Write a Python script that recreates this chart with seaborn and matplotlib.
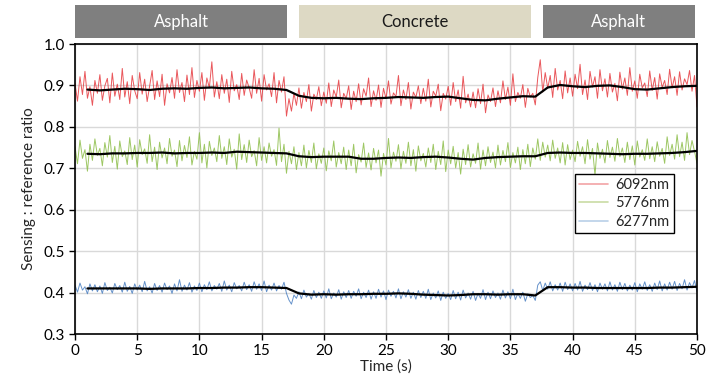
import numpy as np
import pandas as pd
import matplotlib
matplotlib.use("Agg")
import matplotlib.pyplot as plt
import matplotlib.transforms as mtransforms
from matplotlib.patches import Rectangle
from matplotlib.lines import Line2D
import seaborn as sns

# ---------------- data ----------------
time_raw = np.round(np.arange(0, 50.001, 0.2), 1)

red_raw = [
    0.905,0.862,0.921,0.878,0.934,0.869,0.897,0.852,0.912,0.881,
    0.926,0.864,0.899,0.917,0.858,0.930,0.874,0.903,0.866,0.941,
    0.872,0.909,0.856,0.924,0.887,0.868,0.931,0.879,0.915,0.861,
    0.898,0.936,0.866,0.911,0.873,0.927,0.852,0.904,0.882,0.919,
    0.869,0.938,0.883,0.907,0.861,0.925,0.878,0.943,0.871,0.912,
    0.886,0.931,0.864,0.918,0.894,0.957,0.872,0.909,0.868,0.926,
    0.881,0.915,0.859,0.934,0.887,0.902,0.866,0.929,0.876,0.913,
    0.894,0.869,0.938,0.881,0.917,0.862,0.926,0.889,0.904,0.873,
    0.931,0.858,0.912,0.884,0.921,0.826,0.868,0.838,0.881,0.852,
    0.894,0.845,0.883,0.861,0.902,0.838,0.879,0.866,0.897,0.851,
    0.884,0.857,0.906,0.849,0.889,0.872,0.913,0.846,0.881,0.868,
    0.899,0.842,0.886,0.861,0.904,0.853,0.892,0.874,0.918,0.849,
    0.887,0.864,0.901,0.847,0.893,0.868,0.911,0.855,0.882,0.873,
    0.924,0.851,0.889,0.866,0.907,0.843,0.884,0.871,0.899,0.856,
    0.893,0.862,0.915,0.848,0.886,0.874,0.903,0.839,0.881,0.867,
    0.898,0.852,0.907,0.861,0.889,0.845,0.922,0.858,0.879,0.848,
    0.884,0.846,0.892,0.856,0.903,0.834,0.877,0.861,0.894,0.849,
    0.887,0.858,0.911,0.866,0.896,0.852,0.928,0.861,0.883,0.869,
    0.902,0.847,0.893,0.872,0.881,0.853,0.919,0.962,0.884,0.931,
    0.893,0.924,0.871,0.941,0.889,0.912,0.868,0.935,0.882,0.918,
    0.874,0.927,0.892,0.951,0.878,0.913,0.866,0.934,0.896,0.921,
    0.869,0.938,0.887,0.916,0.872,0.929,0.884,0.905,0.863,0.932,
    0.891,0.918,0.876,0.943,0.886,0.911,0.869,0.927,0.894,0.906,
    0.873,0.935,0.888,0.919,0.867,0.928,0.895,0.912,0.878,0.939,
    0.894,0.921,0.876,0.933,0.889,0.916,0.902,0.936,0.886,0.924,
    0.848]

green_raw = [
    0.752,0.711,0.768,0.724,0.745,0.693,0.758,0.719,0.771,0.731,
    0.748,0.706,0.762,0.727,0.779,0.714,0.753,0.698,0.766,0.728,
    0.742,0.709,0.774,0.721,0.756,0.703,0.769,0.733,0.747,0.712,
    0.781,0.716,0.751,0.697,0.763,0.725,0.749,0.711,0.772,0.729,
    0.744,0.704,0.767,0.718,0.755,0.726,0.776,0.708,0.741,0.722,
    0.786,0.713,0.758,0.701,0.765,0.731,0.749,0.716,0.779,0.724,
    0.752,0.709,0.771,0.727,0.746,0.698,0.783,0.721,0.757,0.714,
    0.768,0.728,0.743,0.706,0.774,0.719,0.752,0.713,0.761,0.729,
    0.745,0.707,0.797,0.716,0.758,0.688,0.741,0.711,0.752,0.697,
    0.738,0.706,0.756,0.701,0.743,0.714,0.761,0.699,0.735,0.712,
    0.749,0.694,0.742,0.718,0.766,0.703,0.738,0.711,0.751,0.697,
    0.744,0.706,0.758,0.689,0.733,0.715,0.761,0.702,0.737,0.696,
    0.748,0.713,0.744,0.681,0.736,0.708,0.772,0.701,0.739,0.717,
    0.757,0.699,0.741,0.712,0.763,0.706,0.745,0.693,0.754,0.718,
    0.736,0.703,0.749,0.714,0.758,0.697,0.741,0.709,0.766,0.692,
    0.744,0.711,0.753,0.701,0.738,0.686,0.746,0.709,0.757,0.703,
    0.735,0.712,0.761,0.698,0.744,0.706,0.752,0.714,0.739,0.701,
    0.756,0.708,0.743,0.716,0.762,0.702,0.738,0.713,0.751,0.697,
    0.745,0.711,0.758,0.704,0.749,0.722,0.771,0.719,0.763,0.727,
    0.756,0.718,0.768,0.724,0.749,0.713,0.762,0.708,0.757,0.721,
    0.744,0.716,0.765,0.729,0.752,0.711,0.769,0.722,0.748,0.683,
    0.761,0.724,0.746,0.713,0.767,0.726,0.751,0.717,0.772,0.728,
    0.749,0.714,0.763,0.721,0.754,0.708,0.766,0.727,0.745,0.719,
    0.771,0.723,0.752,0.716,0.764,0.729,0.748,0.712,0.776,0.731,
    0.758,0.722,0.781,0.728,0.763,0.719,0.786,0.733,0.767,0.741,
    0.712]

blue_raw = [
    0.418,0.401,0.423,0.406,0.414,0.397,0.421,0.404,0.419,0.402,
    0.416,0.398,0.424,0.405,0.413,0.399,0.422,0.407,0.417,0.401,
    0.425,0.403,0.415,0.398,0.421,0.406,0.418,0.402,0.427,0.404,
    0.414,0.399,0.422,0.405,0.417,0.401,0.423,0.407,0.416,0.398,
    0.421,0.404,0.431,0.403,0.418,0.406,0.424,0.401,0.416,0.405,
    0.423,0.402,0.419,0.407,0.426,0.404,0.417,0.408,0.422,0.403,
    0.428,0.406,0.418,0.402,0.424,0.409,0.417,0.404,0.425,0.407,
    0.419,0.403,0.426,0.408,0.421,0.405,0.428,0.402,0.418,0.406,
    0.423,0.404,0.417,0.408,0.425,0.398,0.382,0.372,0.394,0.386,
    0.402,0.385,0.406,0.389,0.398,0.384,0.405,0.388,0.401,0.386,
    0.404,0.387,0.409,0.385,0.399,0.389,0.407,0.384,0.402,0.388,
    0.405,0.386,0.403,0.391,0.409,0.385,0.401,0.388,0.406,0.384,
    0.402,0.386,0.408,0.389,0.404,0.383,0.406,0.391,0.403,0.387,
    0.409,0.385,0.402,0.389,0.407,0.386,0.401,0.384,0.405,0.388,
    0.403,0.386,0.408,0.383,0.399,0.387,0.404,0.381,0.401,0.386,
    0.398,0.383,0.405,0.385,0.401,0.382,0.406,0.387,0.399,0.384,
    0.403,0.381,0.398,0.386,0.407,0.383,0.401,0.385,0.404,0.388,
    0.399,0.384,0.406,0.387,0.402,0.385,0.408,0.383,0.398,0.386,
    0.401,0.379,0.397,0.388,0.393,0.381,0.418,0.426,0.405,0.423,
    0.408,0.426,0.404,0.419,0.406,0.423,0.403,0.425,0.407,0.421,
    0.404,0.422,0.406,0.427,0.403,0.418,0.407,0.424,0.405,0.419,
    0.402,0.423,0.408,0.421,0.404,0.426,0.406,0.419,0.403,0.425,
    0.407,0.422,0.404,0.418,0.406,0.424,0.402,0.421,0.408,0.426,
    0.405,0.419,0.403,0.423,0.407,0.428,0.404,0.421,0.406,0.425,
    0.408,0.427,0.405,0.422,0.409,0.431,0.406,0.424,0.411,0.429,
    0.402]

time_smooth = list(range(1, 51))

red_smooth = [
    0.890,0.888,0.890,0.892,0.891,0.889,0.892,0.893,0.892,0.894,
    0.895,0.893,0.894,0.895,0.893,0.892,0.889,0.875,0.870,0.869,
    0.870,0.868,0.867,0.869,0.870,0.872,0.871,0.870,0.872,0.873,
    0.869,0.865,0.864,0.868,0.871,0.874,0.873,0.895,0.901,0.898,
    0.896,0.899,0.900,0.896,0.891,0.890,0.893,0.896,0.898,0.899]

green_smooth = [
    0.735,0.734,0.736,0.736,0.737,0.737,0.738,0.736,0.737,0.737,
    0.738,0.737,0.740,0.739,0.738,0.737,0.736,0.729,0.727,0.728,
    0.728,0.728,0.723,0.723,0.725,0.726,0.725,0.727,0.728,0.726,
    0.723,0.721,0.725,0.727,0.728,0.729,0.729,0.737,0.738,0.737,
    0.737,0.736,0.735,0.734,0.735,0.735,0.736,0.737,0.739,0.742]

blue_smooth = [
    0.410,0.410,0.410,0.410,0.410,0.409,0.410,0.410,0.410,0.411,
    0.411,0.412,0.412,0.413,0.413,0.412,0.411,0.398,0.395,0.396,
    0.395,0.396,0.396,0.397,0.397,0.398,0.397,0.395,0.394,0.393,
    0.394,0.396,0.396,0.395,0.396,0.396,0.393,0.413,0.413,0.412,
    0.412,0.411,0.411,0.411,0.411,0.411,0.412,0.412,0.413,0.414]

series_labels = ["6092nm", "5776nm", "6277nm"]
surface_labels = ["Asphalt", "Concrete", "Asphalt"]
surface_start = [0.0, 18.0, 37.6]
surface_end = [17.05, 36.65, 49.85]

x_ticks = [0, 5, 10, 15, 20, 25, 30, 35, 40, 45, 50]
y_ticks = [0.3, 0.4, 0.5, 0.6, 0.7, 0.8, 0.9, 1.0]

# ---------------- style ----------------
sns.set_style("ticks")
plt.rcParams["font.family"] = ["Lato", "DejaVu Sans"]

raw_colors = ["#e63a3f", "#8cbd48", "#4a7fc1"]
leg_colors = ["#f2a3a5", "#c9dca4", "#b9cfe8"]
surface_colors = ["#7f7f7f", "#ddd9c4", "#7f7f7f"]
surface_text = ["white", "#1a1a1a", "white"]

fig = plt.figure(figsize=(7.22, 3.81), dpi=100)
ax = fig.add_axes([75/722, 1 - 334/381, 622/722, 290/381])

raw_sets = [red_raw, green_raw, blue_raw]
smooth_sets = [red_smooth, green_smooth, blue_smooth]

for vals, col in zip(raw_sets, raw_colors):
    df = pd.DataFrame({"t": time_raw, "v": vals})
    sns.lineplot(data=df, x="t", y="v", ax=ax, color=col, lw=0.7,
                 alpha=0.85, estimator=None, legend=False)
for vals in smooth_sets:
    df = pd.DataFrame({"t": time_smooth, "v": vals})
    sns.lineplot(data=df, x="t", y="v", ax=ax, color="black", lw=1.6,
                 estimator=None, legend=False)

ax.set_xlim(0, 50)
ax.set_ylim(0.3, 1.0)
ax.set_xticks(x_ticks)
ax.set_yticks(y_ticks)
ax.set_yticklabels([f"{v:.1f}" for v in y_ticks])
ax.grid(True, color="#d9d9d9", lw=1.0)
ax.set_axisbelow(True)
for s in ax.spines.values():
    s.set_color("black")
    s.set_linewidth(1.2)
ax.tick_params(axis="both", direction="out", length=4, width=1.0,
               colors="black", labelsize=11, pad=3)
ax.set_xlabel("Time (s)", fontsize=11, labelpad=1)
ax.set_ylabel("Sensing : reference ratio", fontsize=11, labelpad=6)

# surface banners
trans = mtransforms.blended_transform_factory(ax.transData, ax.transAxes)
y0 = (334 - 38) / 290
y1 = (334 - 5) / 290
for lab, xs, xe, fc, tc in zip(surface_labels, surface_start, surface_end,
                               surface_colors, surface_text):
    ax.add_patch(Rectangle((xs, y0), xe - xs, y1 - y0, transform=trans,
                           facecolor=fc, edgecolor="none", clip_on=False))
    ax.text((xs + xe) / 2, (y0 + y1) / 2, lab, transform=trans,
            ha="center", va="center", color=tc, fontsize=12)

handles = [Line2D([], [], color=c, lw=1.2) for c in leg_colors]
leg = ax.legend(handles, series_labels, loc="upper right",
                bbox_to_anchor=(0.963, 0.553), fontsize=10.5,
                frameon=True, fancybox=False, handlelength=2.0,
                borderpad=0.3, labelspacing=0.3, handletextpad=0.5,
                borderaxespad=0)
leg.get_frame().set_edgecolor("black")
leg.get_frame().set_linewidth(1.0)
leg.get_frame().set_alpha(1)

fig.savefig("out.png", dpi=100)
